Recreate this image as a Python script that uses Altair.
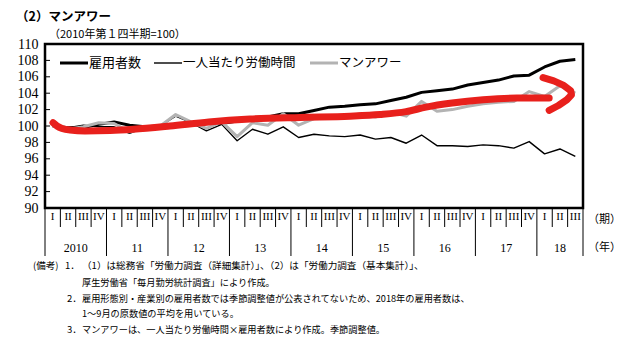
import altair as alt
import pandas as pd

# ---------------- data ----------------
quarters = ["I", "II", "III", "IV"] * 8 + ["I", "II", "III"]
years = ["2010", "11", "12", "13", "14", "15", "16", "17", "18"]
quarters_per_year = [4, 4, 4, 4, 4, 4, 4, 4, 3]

employees = [100.0, 99.8, 99.8, 100.2, 100.5, 100.1, 99.9, 100.0, 100.2, 100.1,
             100.3, 100.3, 100.6, 100.9, 101.1, 101.5, 101.5, 101.9, 102.3, 102.4,
             102.6, 102.7, 103.1, 103.5, 104.1, 104.3, 104.5, 105.0, 105.3, 105.6,
             106.1, 106.2, 107.2, 107.9, 108.1]
hours = [100.0, 99.8, 100.1, 99.9, 99.9, 99.1, 99.8, 100.0, 101.2, 100.4,
         99.4, 100.2, 98.2, 99.6, 99.0, 99.9, 98.6, 99.0, 98.8, 98.7,
         98.9, 98.4, 98.6, 97.9, 98.9, 97.6, 97.6, 97.5, 97.7, 97.6,
         97.3, 98.1, 96.6, 97.2, 96.3]
manhours = [100.0, 99.6, 99.9, 100.4, 100.3, 99.3, 99.7, 100.0, 101.4, 100.5,
            99.7, 100.5, 98.7, 100.4, 100.1, 101.5, 100.1, 100.9, 101.1, 101.1,
            101.5, 101.1, 101.7, 101.2, 103.0, 101.8, 102.0, 102.4, 102.7, 102.9,
            103.0, 104.2, 103.6, 104.9, 104.0]

series_names = ["雇用者数", "一人当たり労働時間", "マンアワー"]

# hand-drawn red arrow (quarter index, value)
arrow_x = [0.02, 0.28, 0.61, 1.13, 2.10, 3.73, 5.23, 7.63, 10.16, 12.84,
           16.09, 19.34, 21.30, 22.99, 24.29, 25.98, 28.0, 30.2, 32.3]
arrow_y = [100.4, 100.0, 99.7, 99.5, 99.4, 99.45, 99.6, 100.0, 100.5, 100.85,
           101.05, 101.2, 101.4, 101.75, 102.3, 102.8, 103.2, 103.4, 103.4]
head_x = [31.9, 32.6, 33.25, 33.7, 33.75, 33.45, 32.9, 32.3]
head_y = [105.9, 105.5, 104.95, 104.3, 103.8, 103.2, 102.5, 101.9]

y_ticks = [90, 92, 94, 96, 98, 100, 102, 104, 106, 108, 110]

notes = [
    "（1）は総務省「労働力調査（詳細集計）」、（2）は「労働力調査（基本集計）」、",
    "厚生労働省「毎月勤労統計調査」により作成。",
    "雇用形態別・産業別の雇用者数では季節調整値が公表されてないため、2018年の雇用者数は、",
    "1～9月の原数値の平均を用いている。",
    "マンアワーは、一人当たり労働時間×雇用者数により作成。季節調整値。",
]

# ---------------- layout ----------------
W, H = 538, 164
OX, OY = 45, 44  # plot origin on the page
JP = "Noto Sans CJK JP"
SERIF = "Liberation Serif"

idx = list(range(len(quarters)))
df = pd.DataFrame({"idx": idx, "emp": employees, "hrs": hours, "mh": manhours, "q": quarters})

x_scale = alt.Scale(domain=[-0.5, len(quarters) - 0.5], nice=False)
y_scale = alt.Scale(domain=[90, 110], nice=False, zero=False)
y_axis = alt.Axis(values=y_ticks, title=None, ticks=False, domain=False, grid=False,
                  labelFont=SERIF, labelFontSize=14, labelColor="black", labelPadding=7,
                  format="d")


def X(field):
    return alt.X(f"{field}:Q", scale=x_scale, axis=None)


def Y(field):
    return alt.Y(f"{field}:Q", scale=y_scale, axis=y_axis)


def line(field, color, width):
    return alt.Chart(df).mark_line(color=color, strokeWidth=width, strokeJoin="round").encode(
        x=X("idx"), y=Y(field))


# inward y ticks
ytick_layer = alt.Chart(pd.DataFrame({"v": y_ticks})).mark_rule(color="black", strokeWidth=1).encode(
    y=Y("v"), x=alt.value(0), x2=alt.value(5))

# quarter labels
q_text = alt.Chart(df).mark_text(font=SERIF, fontSize=11, color="black", baseline="middle").encode(
    x=X("idx"), y=alt.value(H + 9), text="q:N")

# year labels and separators
year_centers, year_bounds = [], [-0.5]
start = 0
for n in quarters_per_year:
    year_centers.append(start + (n - 1) / 2)
    start += n
    year_bounds.append(start - 0.5)
ydf = pd.DataFrame({"c": year_centers, "y": years})
y_text = alt.Chart(ydf).mark_text(font=SERIF, fontSize=12, color="black", baseline="middle").encode(
    x=X("c"), y=alt.value(H + 40), text="y:N")

q_bounds = [i - 0.5 for i in idx[1:] if (i - 0.5) not in year_bounds]
qsep = alt.Chart(pd.DataFrame({"b": q_bounds})).mark_rule(color="black", strokeWidth=1).encode(
    x=X("b"), y=alt.value(H), y2=alt.value(H + 19))
ysep = alt.Chart(pd.DataFrame({"b": year_bounds})).mark_rule(color="black", strokeWidth=1).encode(
    x=X("b"), y=alt.value(H), y2=alt.value(H + 48))

one = pd.DataFrame({"a": [0]})


def txt(s, x, y, size, font=JP, weight="normal", align="left"):
    return alt.Chart(one).mark_text(text=s, font=font, fontSize=size, fontWeight=weight,
                                    align=align, baseline="middle", color="black").encode(
        x=alt.value(x - OX), y=alt.value(y - OY))


def seg(x1, x2, y, color, width):
    return alt.Chart(one).mark_rule(color=color, strokeWidth=width).encode(
        x=alt.value(x1 - OX), x2=alt.value(x2 - OX), y=alt.value(y - OY))


# arrow
adf = pd.DataFrame({"x": arrow_x, "y": arrow_y, "o": range(len(arrow_x))})
hdf = pd.DataFrame({"x": head_x, "y": head_y, "o": range(len(head_x))})
RED = "#e8201c"
arrow = alt.Chart(adf).mark_line(color=RED, strokeWidth=7, strokeCap="round", strokeJoin="round",
                                 interpolate="monotone").encode(
    x=X("x"), y=Y("y"), order="o:Q")
head = alt.Chart(hdf).mark_line(color=RED, strokeWidth=7, strokeCap="round", strokeJoin="round",
                                interpolate="linear").encode(
    x=X("x"), y=Y("y"), order="o:Q")

layers = [
    ytick_layer,
    line("emp", "black", 3),
    line("hrs", "black", 1.4),
    line("mh", "#b3b3b3", 3),
    arrow, head,
    qsep, ysep, q_text, y_text,
    # legend
    seg(60, 88, 63, "black", 3), txt(series_names[0], 89, 63, 13),
    seg(154, 182, 63, "black", 1.4), txt(series_names[1], 183, 63, 12.5),
    seg(310, 338, 63, "#b3b3b3", 3), txt(series_names[2], 339, 63, 12.5),
    # titles
    txt("（2）マンアワー", 16, 17, 12.5, weight="bold"),
    txt("（2010年第１四半期=100）", 49, 35, 11),
    txt("（期）", 588, 220, 11),
    txt("（年）", 588, 248, 11),
    # notes
    txt("(備考)", 33, 266, 9.5),
    txt("1．", 65, 266, 9.5),
    txt(notes[0], 82, 266, 9.6),
    txt(notes[1], 82, 283, 9.2),
    txt("2．", 67, 299, 9.5),
    txt(notes[2], 82, 299, 9.2),
    txt(notes[3], 82, 314, 9.2),
    txt("3．", 67, 329.5, 9.5),
    txt(notes[4], 82, 329.5, 9.2),
]

chart = alt.layer(*layers).properties(
    width=W, height=H, autosize="none",
    padding={"left": OX, "top": OY, "right": 620 - OX - W, "bottom": 342 - OY - H},
    background="white",
).configure_view(stroke="black", strokeWidth=2.5)

chart.save("out.html", embed_options={"renderer": "svg", "actions": False})
